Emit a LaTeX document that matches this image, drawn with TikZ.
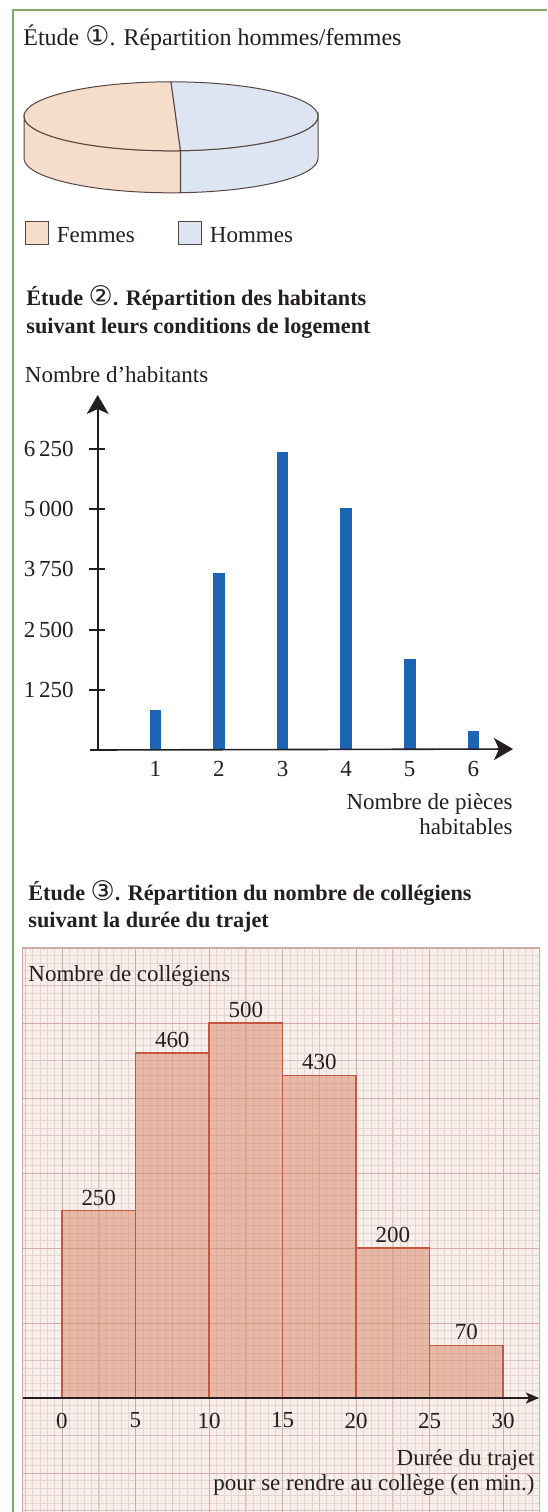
\documentclass[tikz,border=0pt]{standalone}
\usepackage{fontspec}
\setmainfont{Liberation Serif}
\newfontfamily\cercle{DejaVu Sans}
\usetikzlibrary{positioning,arrows.meta}
\definecolor{vertcadre}{RGB}{128,170,104}
\definecolor{femmes}{RGB}{246,220,203}
\definecolor{hommes}{RGB}{221,229,243}
\definecolor{bord}{RGB}{85,70,65}
\definecolor{noir}{RGB}{35,31,32}
\definecolor{bleu}{RGB}{30,100,180}
\definecolor{papier}{RGB}{248,238,235}
\definecolor{cmillim}{RGB}{230,212,208}
\definecolor{ccentim}{RGB}{205,172,165}
\definecolor{saumon}{RGB}{218,132,98}
\definecolor{brique}{RGB}{196,85,63}
\newcommand{\numetude}[1]{{\cercle\mdseries\fontsize{13.5}{13.5}\selectfont #1}}

\begin{document}
\begin{tikzpicture}[x=0.5pt,y=-0.5pt,
	texte/.style={font=\fontsize{11.5}{13}\selectfont,inner sep=0pt,text=noir},
	titre/.style={font=\fontsize{11.1}{13}\selectfont\bfseries,inner sep=0pt,text=noir},
	part/.style={draw=bord,line width=0.5pt},
	carre/.style={draw=bord,line width=0.5pt,minimum size=11.5pt,inner sep=0pt},
	fleche/.style={line width=0.8pt,draw=noir,-{Stealth[length=9.5pt,width=11pt,inset=2.5pt]}},
	graduation/.style={line width=0.6pt,draw=noir},
	barre/.style={fill=bleu},
	millim/.style={draw=cmillim,line width=0.2pt},
	demi/.style={draw=cmillim!60!ccentim,line width=0.3pt},
	centim/.style={draw=ccentim,line width=0.45pt},
	classe/.style={fill=saumon,fill opacity=0.5,draw=brique,line width=0.6pt},
	axeh/.style={line width=1pt,draw=noir,-{Stealth[length=6.5pt,width=5.5pt,inset=1.5pt]}}]
		\useasboundingbox (0,0) rectangle (547,1512);
		\fill[white] (0,0) rectangle (547,1512);
		\draw[vertcadre,line width=1pt] (13,1512) -- (13,10) -- (547,10);

		\node[texte,font=\fontsize{12}{14}\selectfont,anchor=base west]			(t1)	at (23,45)		{Étude \numetude{①}. Répartition hommes/femmes};

		\coordinate (haut) at (171,81.8);
		\coordinate (gauche) at (24,116.3);
		\coordinate (avant) at (180.5,150.7);
		\filldraw[part,fill=femmes] (gauche) arc[start angle=180,end angle=86.3,x radius=147,y radius=34.5] -- ++(0,42) arc[start angle=86.3,end angle=180,x radius=147,y radius=34.5] -- cycle;
		\filldraw[part,fill=hommes] (avant) arc[start angle=86.3,end angle=0,x radius=147,y radius=34.5] -- ++(0,42) arc[start angle=0,end angle=86.3,x radius=147,y radius=34.5] -- cycle;
		\filldraw[part,fill=femmes] (haut) arc[start angle=270,end angle=86.3,x radius=147,y radius=34.5] -- (avant) -- cycle;
		\filldraw[part,fill=hommes] (haut) arc[start angle=-90,end angle=86.3,x radius=147,y radius=34.5] -- (avant) -- cycle;

		\node[carre,fill=femmes]													(cf)	at (36.5,233)	{};
		\node[texte,node distance=4pt,right=of cf,yshift=-1pt]						(lf)					{Femmes};
		\node[carre,fill=hommes]													(ch)	at (189.5,233)	{};
		\node[texte,node distance=4pt,right=of ch,yshift=-1pt]						(lh)					{Hommes};

		\node[titre,anchor=base west]												(t2a)	at (26,305)		{Étude \numetude{②}. Répartition des habitants};
		\node[titre,anchor=base west,yshift=-14pt]									(t2b)	at (t2a.base west)	{suivant leurs conditions de logement};
		\node[texte,anchor=base west]												(ny)	at (24.5,382)	{Nombre d’habitants};

		\fill[barre] (149.5,750) rectangle (161,710);
		\fill[barre] (213.2,750) rectangle (224.7,573);
		\fill[barre] (276.8,750) rectangle (288.3,452);
		\fill[barre] (340.4,750) rectangle (351.9,508);
		\fill[barre] (404,750) rectangle (415.5,659);
		\fill[barre] (467.6,750) rectangle (479.1,731);

		\coordinate (xdeb) at (90,750);
		\coordinate (xfin) at (513,749);
		\coordinate (ydeb) at (97.7,750);
		\coordinate (yfin) at (97.7,395);
		\draw[fleche] (xdeb) -- (xfin);
		\draw[fleche] (ydeb) -- (yfin);

		\draw[graduation] (89,690) -- (105,690);
		\draw[graduation] (89,630) -- (105,630);
		\draw[graduation] (89,569) -- (105,569);
		\draw[graduation] (89,509) -- (105,509);
		\draw[graduation] (89,449) -- (105,449);
		\node[texte,anchor=east]													(g1)	at (74,690)		{1\,250};
		\node[texte,anchor=east]													(g2)	at (74,630)		{2\,500};
		\node[texte,anchor=east]													(g3)	at (74,569)		{3\,750};
		\node[texte,anchor=east]													(g4)	at (74,509)		{5\,000};
		\node[texte,anchor=east]													(g5)	at (74,449)		{6\,250};

		\node[texte]																(p1)	at (155.3,769)	{1};
		\node[texte]																(p2)	at (218.9,769)	{2};
		\node[texte]																(p3)	at (282.5,769)	{3};
		\node[texte]																(p4)	at (346.1,769)	{4};
		\node[texte]																(p5)	at (409.7,769)	{5};
		\node[texte]																(p6)	at (473.3,769)	{6};
		\node[texte,anchor=base east]												(nx1)	at (513,809)	{Nombre de pièces};
		\node[texte,anchor=base east]												(nx2)	at (513,834)	{habitables};

		\node[titre,anchor=base west]												(t3a)	at (28,900)		{Étude \numetude{③}. Répartition du nombre de collégiens};
		\node[titre,anchor=base west,yshift=-13.5pt]								(t3b)	at (t3a.base west)	{suivant la durée du trajet};

		\fill[papier] (22,947) rectangle (539,1512);
		\foreach \i in {-5,...,64}
			\draw[millim] ({62+7.35*\i},947) -- ({62+7.35*\i},1512);
		\foreach \j in {0,...,75}
			\draw[millim] (22,{948+7.5*\j}) -- (539,{948+7.5*\j});
		\foreach \i in {-1,...,5}
			\draw[demi] ({98.75+73.5*\i},947) -- ({98.75+73.5*\i},1512);
		\foreach \j in {0,...,7}
			\draw[demi] (22,{985.5+75*\j}) -- (539,{985.5+75*\j});
		\foreach \i in {0,...,6}
			\draw[centim] ({62+73.5*\i},947) -- ({62+73.5*\i},1512);
		\foreach \j in {0,...,7}
			\draw[centim] (22,{948+75*\j}) -- (539,{948+75*\j});
		\draw[centim] (22,1512) -- (22,947) -- (539,947) -- (539,1512);

		\filldraw[classe] (62,1398) rectangle (135.5,1210.5);
		\filldraw[classe] (135.5,1398) rectangle (209,1053);
		\filldraw[classe] (209,1398) rectangle (282.5,1023);
		\filldraw[classe] (282.5,1398) rectangle (356,1075.5);
		\filldraw[classe] (356,1398) rectangle (429.5,1248);
		\filldraw[classe] (429.5,1398) rectangle (503,1345.5);

		\node[texte]																(e1)	at (98.75,1198)	{250};
		\node[texte]																(e2)	at (172.25,1040)	{460};
		\node[texte]																(e3)	at (245.75,1010)	{500};
		\node[texte]																(e4)	at (319.25,1062)	{430};
		\node[texte]																(e5)	at (392.75,1235)	{200};
		\node[texte]																(e6)	at (466.25,1332)	{70};

		\coordinate (hdeb) at (22.7,1398);
		\coordinate (hfin) at (539,1398);
		\draw[axeh] (hdeb) -- (hfin);

		\node[texte]																(d0)	at (62,1420.5)	{0};
		\node[texte]																(d5)	at (135.5,1420.5)	{5};
		\node[texte]																(d10)	at (209,1420.5)	{10};
		\node[texte]																(d15)	at (282.5,1420.5)	{15};
		\node[texte]																(d20)	at (356,1420.5)	{20};
		\node[texte]																(d25)	at (429.5,1420.5)	{25};
		\node[texte]																(d30)	at (503,1420.5)	{30};

		\node[texte,anchor=base west]												(nc)	at (28,981)		{Nombre de collégiens};
		\node[texte,anchor=base east]												(dt1)	at (535,1465)	{Durée du trajet};
		\node[texte,anchor=base east]												(dt2)	at (535,1490)	{pour se rendre au collège (en min.)};
	\end{tikzpicture}
\end{document}
